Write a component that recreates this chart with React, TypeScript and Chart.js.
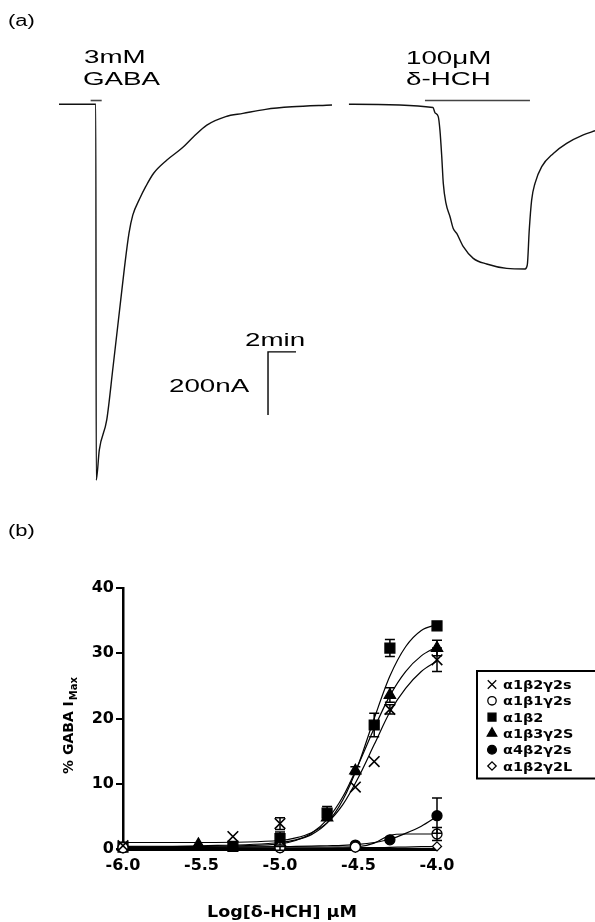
import React, { useEffect, useRef } from 'react';
import { Chart, registerables } from 'chart.js';
import { drawPoint } from 'chart.js/helpers';

Chart.register(...registerables);

// ---------------- Panel (a): current trace (time in min, current in nA) ----------------
const gabaTraceTime = [0, 2.63, 2.66, 2.88, 3.41, 3.86, 4.41, 4.68, 5.0, 5.27, 5.76, 6.21, 6.76, 7.71, 8.79, 9.61, 10.56, 11.91, 13.14, 14.76, 16.64, 19.5];
const gabaTraceCurrent = [0, 0, -1193, -1097, -1002, -834, -621, -517, -409, -352, -300, -260, -219, -177, -139, -103, -66, -39, -29, -16, -8, -2];
const hchTraceTime = [20.71, 26.71, 26.86, 27.09, 27.21, 27.34, 27.45, 27.64, 27.93, 28.16, 28.41, 28.88, 29.59, 30.55, 31.98, 33.29, 33.45, 33.59, 33.76, 34.0, 34.48, 35.31, 36.26, 37.45, 38.29];
const hchTraceCurrent = [0, -10, -27, -39, -82, -166, -251, -314, -357, -394, -410, -452, -489, -507, -521, -523, -510, -399, -304, -251, -198, -156, -124, -97, -84];
const gabaApplication = [2.26, 3.05];
const hchApplication = [26.14, 33.64];
const applicationLevel = [12, 12];
const scaleBarTime = [16.93, 14.93, 14.93]; // 2 min
const scaleBarCurrent = [-786, -786, -986]; // 200 nA
const topXRange = [-4.214, 38.286];
const topYRange = [-1224.4, 331.1];

// ---------------- Panel (b): concentration-response ----------------
const xTickValues = [-6.0, -5.5, -5.0, -4.5, -4.0];
const xTickLabels = ['-6.0', '-5.5', '-5.0', '-4.5', '-4.0'];
const yTickValues = [0, 10, 20, 30, 40];
const seriesNames = ['α1β2γ2s', 'α1β1γ2s', 'α1β2', 'α1β3γ2S', 'α4β2γ2s', 'α1β2γ2L'];

const concCross = [-6.0, -5.3, -5.0, -4.52, -4.4, -4.3, -4.0];
const respCross = [0.5, 1.9, 3.9, 9.5, 13.4, 21.4, 29.0];
const semCross = [0, 0, 0.9, 0, 0, 0.7, 1.8];

const concOpenCircle = [-6.0, -5.0, -4.52, -4.0];
const respOpenCircle = [0.2, 0.2, 0.3, 2.3];
const semOpenCircle = [0, 0, 0, 1.0];

const concSquare = [-6.0, -5.3, -5.0, -4.7, -4.4, -4.3, -4.0];
const respSquare = [0.3, 0.4, 1.6, 5.5, 19.0, 30.8, 34.2];
const semSquare = [0, 0, 1.0, 1.0, 1.8, 1.3, 0.6];

const concTriangle = [-6.0, -5.52, -5.0, -4.7, -4.52, -4.3, -4.0];
const respTriangle = [0.3, 0.7, 1.0, 4.8, 12.0, 23.6, 30.8];
const semTriangle = [0, 0, 0, 0, 0.6, 1.1, 1.2];

const concFilledCircle = [-6.0, -5.0, -4.52, -4.3, -4.0];
const respFilledCircle = [0.2, 0.3, 0.6, 1.4, 5.1];
const semFilledCircle = [0, 0, 0, 0, 2.7];

const concDiamond = [-6.0, -5.0, -4.52, -4.0];
const respDiamond = [0.1, 0.1, 0.2, 0.4];
const semDiamond = [0, 0.3, 0, 0];

// fitted curves
const fitX = [-6.0, -5.5, -5.0, -4.9, -4.8, -4.7, -4.6, -4.5, -4.4, -4.3, -4.2, -4.1, -4.0];
const fitCross = [1.0, 1.0, 1.3, 1.7, 2.5, 4.0, 6.8, 11.0, 16.0, 21.0, 24.6, 27.2, 28.8];
const fitOpenCircle = [0.3, 0.3, 0.3, 0.3, 0.3, 0.3, 0.3, 0.35, 0.9, 2.1, 2.3, 2.3, 2.3];
const fitSquare = [0.4, 0.5, 1.0, 1.4, 2.2, 4.0, 7.5, 13.0, 20.0, 26.5, 31.0, 33.5, 34.4];
const fitTriangle = [0.3, 0.4, 0.8, 1.3, 2.4, 4.5, 8.0, 13.0, 18.5, 23.5, 27.2, 29.6, 31.0];
const fitFilledCircle = [0.2, 0.25, 0.35, 0.4, 0.45, 0.5, 0.55, 0.7, 1.0, 1.5, 2.4, 3.5, 5.0];
const fitDiamond = [0.1, 0.1, 0.1, 0.1, 0.1, 0.1, 0.15, 0.2, 0.2, 0.25, 0.3, 0.35, 0.4];

const zip = (xs: number[], ys: number[]) => xs.map((x, i) => ({ x, y: ys[i] }));

const markerStyles = [
  { pointStyle: 'crossRot', radius: 7.5, fill: '#000', legendRadius: 6 },
  { pointStyle: 'circle', radius: 5, fill: '#fff', legendRadius: 4.2 },
  { pointStyle: 'rect', radius: 7, fill: '#000', legendRadius: 5.6 },
  { pointStyle: 'triangle', radius: 6.5, fill: '#000', legendRadius: 5.5 },
  { pointStyle: 'circle', radius: 5, fill: '#000', legendRadius: 4.4 },
  { pointStyle: 'rectRot', radius: 4.5, fill: '#fff', legendRadius: 4.2 },
];

const markerData = [
  [concCross, respCross, semCross],
  [concOpenCircle, respOpenCircle, semOpenCircle],
  [concSquare, respSquare, semSquare],
  [concTriangle, respTriangle, semTriangle],
  [concFilledCircle, respFilledCircle, semFilledCircle],
  [concDiamond, respDiamond, semDiamond],
];
const fitData = [fitCross, fitOpenCircle, fitSquare, fitTriangle, fitFilledCircle, fitDiamond];

function stretchedText(ctx: CanvasRenderingContext2D, text: string, x: number, y: number, font: string, sx: number, align: CanvasTextAlign = 'left') {
  ctx.save();
  ctx.font = font;
  ctx.translate(x, y);
  ctx.scale(sx, 1);
  ctx.fillStyle = '#000';
  ctx.textBaseline = 'alphabetic';
  ctx.textAlign = align;
  ctx.fillText(text, 0, 0);
  ctx.restore();
}

const TOP_FONT = '18.5px "Liberation Sans"';
const LABEL_FONT = '16px "Liberation Sans"';

const topTextPlugin = {
  id: 'topText',
  afterDraw(chart: any) {
    const ctx = chart.ctx as CanvasRenderingContext2D;
    stretchedText(ctx, '(a)', 8, 26, LABEL_FONT, 1.37);
    stretchedText(ctx, '3mM', 84, 63, TOP_FONT, 1.5);
    stretchedText(ctx, 'GABA', 83, 85, TOP_FONT, 1.5);
    stretchedText(ctx, '100μM', 406, 64, TOP_FONT, 1.5);
    stretchedText(ctx, 'δ-HCH', 406, 85, TOP_FONT, 1.5);
    stretchedText(ctx, '2min', 245, 346, TOP_FONT, 1.5);
    stretchedText(ctx, '200nA', 169, 391.5, TOP_FONT, 1.5);
  },
};

const bottomPlugin = {
  id: 'bottomDecor',
  afterDatasetsDraw(chart: any) {
    const ctx = chart.ctx as CanvasRenderingContext2D;
    const xs = chart.scales.x;
    const ys = chart.scales.y;
    ctx.save();
    ctx.strokeStyle = '#000';
    ctx.lineWidth = 1.5;
    markerData.forEach(([cx, cy, ce]) => {
      cx.forEach((xv, i) => {
        const e = ce[i];
        if (!e) return;
        const px = xs.getPixelForValue(xv);
        const p1 = ys.getPixelForValue(cy[i] + e);
        const p2 = ys.getPixelForValue(cy[i] - e);
        ctx.beginPath();
        ctx.moveTo(px, p1);
        ctx.lineTo(px, p2);
        ctx.moveTo(px - 5, p1);
        ctx.lineTo(px + 5, p1);
        ctx.moveTo(px - 5, p2);
        ctx.lineTo(px + 5, p2);
        ctx.stroke();
      });
    });
    ctx.restore();
  },
  afterDraw(chart: any) {
    const ctx = chart.ctx as CanvasRenderingContext2D;
    stretchedText(ctx, '(b)', 8, 46, LABEL_FONT, 1.37);

    // y-axis title with subscript
    ctx.save();
    ctx.translate(68, 236);
    ctx.rotate(-Math.PI / 2);
    ctx.fillStyle = '#000';
    ctx.textBaseline = 'alphabetic';
    ctx.textAlign = 'left';
    const mainFont = 'bold 14px "DejaVu Sans"';
    const subFont = 'bold 10px "DejaVu Sans"';
    ctx.font = mainFont;
    const main = '% GABA I';
    const w1 = ctx.measureText(main).width;
    ctx.font = subFont;
    const w2 = ctx.measureText('Max').width;
    const start = -(w1 + w2) / 2;
    ctx.font = mainFont;
    ctx.fillText(main, start, 5);
    ctx.font = subFont;
    ctx.fillText('Max', start + w1 + 1, 9);
    ctx.restore();

    // x-axis title
    stretchedText(ctx, 'Log[δ-HCH] μM', 282, 426.5, 'bold 15px "DejaVu Sans"', 1.17, 'center');

    // legend
    ctx.save();
    ctx.strokeStyle = '#000';
    ctx.lineWidth = 2;
    ctx.strokeRect(477, 181, 130, 107.5);
    seriesNames.forEach((name, i) => {
      const st = markerStyles[i];
      const y = 194.5 + i * 16.3;
      ctx.fillStyle = st.fill;
      ctx.strokeStyle = '#000';
      ctx.lineWidth = 1.3;
      drawPoint(ctx, { pointStyle: st.pointStyle as any, radius: st.legendRadius, rotation: 0, borderWidth: 1.3 } as any, 492, y);
      stretchedText(ctx, name, 503, y + 4.5, 'bold 12px "DejaVu Sans"', 1.2);
    });
    ctx.restore();
  },
};

export default function App() {
  const topRef = useRef<HTMLCanvasElement>(null);
  const botRef = useRef<HTMLCanvasElement>(null);

  useEffect(() => {
    const lineDs = (data: any[], color = '#111', width = 1.4) => ({
      data,
      showLine: true,
      borderColor: color,
      borderWidth: width,
      pointRadius: 0,
      cubicInterpolationMode: 'monotone' as const,
      clip: false as any,
    });

    const top = new Chart(topRef.current!, {
      type: 'scatter',
      data: {
        datasets: [
          lineDs(zip(gabaTraceTime, gabaTraceCurrent)),
          lineDs(zip(hchTraceTime, hchTraceCurrent)),
          lineDs(zip(gabaApplication, applicationLevel), '#444', 1.6),
          lineDs(zip(hchApplication, applicationLevel), '#444', 1.6),
          { ...lineDs(zip(scaleBarTime, scaleBarCurrent), '#000', 1.4), cubicInterpolationMode: 'default' as const, tension: 0 },
        ],
      },
      options: {
        animation: false,
        responsive: false,
        devicePixelRatio: 1,
        layout: { padding: 0 },
        plugins: { legend: { display: false }, tooltip: { enabled: false } },
        scales: {
          x: { type: 'linear', display: false, min: topXRange[0], max: topXRange[1] },
          y: { type: 'linear', display: false, min: topYRange[0], max: topYRange[1] },
        },
      },
      plugins: [topTextPlugin],
    });

    const markerSets = markerData.map(([cx, cy], i) => ({
      data: zip(cx, cy),
      showLine: false,
      pointStyle: markerStyles[i].pointStyle as any,
      pointRadius: markerStyles[i].radius,
      pointBackgroundColor: markerStyles[i].fill,
      pointBorderColor: '#000',
      pointBorderWidth: markerStyles[i].pointStyle === 'crossRot' ? 1.6 : 1.3,
      clip: false as any,
      order: 0,
    }));
    const fitSets = fitData.map((fy) => ({
      data: zip(fitX, fy),
      showLine: true,
      borderColor: '#000',
      borderWidth: 1.2,
      pointRadius: 0,
      cubicInterpolationMode: 'monotone' as const,
      clip: false as any,
      order: 1,
    }));

    const tickFont = { family: '"DejaVu Sans"', weight: 'bold' as const, size: 16 };
    const bottom = new Chart(botRef.current!, {
      type: 'scatter',
      data: { datasets: [...markerSets, ...fitSets] as any },
      options: {
        animation: false,
        responsive: false,
        devicePixelRatio: 1,
        layout: { padding: { left: 0, right: 158, top: 98, bottom: 0 } },
        plugins: { legend: { display: false }, tooltip: { enabled: false } },
        scales: {
          x: {
            type: 'linear',
            min: -6,
            max: -4,
            afterBuildTicks: (s: any) => { s.ticks = xTickValues.map((v) => ({ value: v })); },
            afterFit: (s: any) => { s.height = 73; },
            ticks: {
              autoSkip: false,
              maxRotation: 0,
              padding: -1,
              color: '#000',
              font: tickFont,
              callback: (_v: any, i: number) => xTickLabels[i],
            },
            grid: { display: false },
            border: { display: true, color: '#000', width: 3 },
          },
          y: {
            type: 'linear',
            min: 0,
            max: 40,
            afterBuildTicks: (s: any) => { s.ticks = yTickValues.map((v) => ({ value: v })); },
            afterFit: (s: any) => { s.width = 123; },
            ticks: { color: '#000', font: tickFont, padding: 2 },
            grid: { drawOnChartArea: false, drawTicks: true, tickLength: 7, color: '#000', lineWidth: 2 },
            border: { display: true, color: '#000', width: 2.5 },
          },
        },
      },
      plugins: [bottomPlugin],
    });

    return () => {
      top.destroy();
      bottom.destroy();
    };
  }, []);

  return (
    <div style={{ position: 'absolute', left: 0, top: 0, width: 595, height: 922, background: '#fff' }}>
      <canvas ref={topRef} width={595} height={490} style={{ position: 'absolute', left: 0, top: 0, display: 'block' }} />
      <canvas ref={botRef} width={595} height={432} style={{ position: 'absolute', left: 0, top: 490, display: 'block' }} />
    </div>
  );
}
